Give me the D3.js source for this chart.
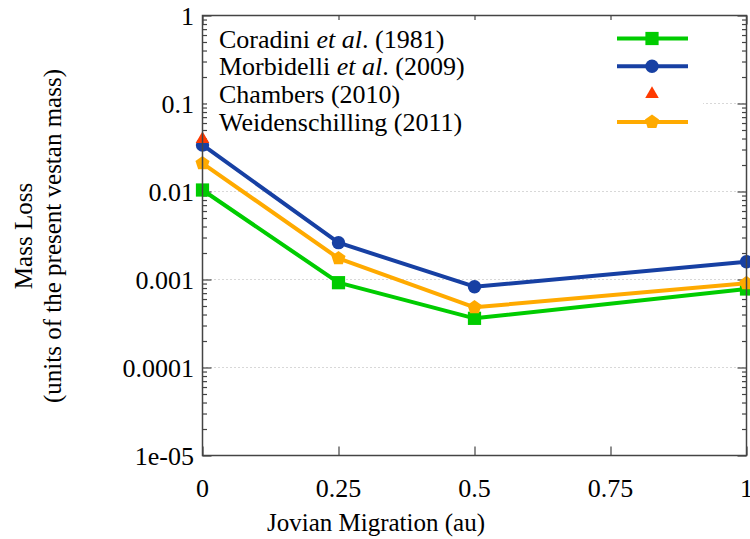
<!DOCTYPE html>
<html><head><meta charset="utf-8">
<script src="https://cdn.jsdelivr.net/npm/d3@7"></script>
<style>
body{margin:0;background:#fff;}
svg{display:block;}
</style></head>
<body><svg id="c" width="750" height="539" font-family="'Liberation Serif', 'DejaVu Serif', serif"></svg>
<script>
// ---- data ----
const xValues = [0, 0.25, 0.5, 1];
const coradini = [0.0104, 0.00092, 0.000362, 0.00078];
const morbidelli = [0.0338, 0.00262, 0.000828, 0.00159];
const chambersX = [0];
const chambers = [0.0395];
const weidenschilling = [0.0209, 0.00174, 0.000483, 0.000906];
const xTicks = [0, 0.25, 0.5, 0.75, 1];
const xTickLabels = ["0", "0.25", "0.5", "0.75", "1"];
const yTicks = [1, 0.1, 0.01, 0.001, 0.0001, 0.00001];
const yTickLabels = ["1", "0.1", "0.01", "0.001", "0.0001", "1e-05"];

const FONT = "'Liberation Serif', 'DejaVu Serif', serif";
const svg = d3.select("#c");
const L = 202.5, R = 746.5, T = 15.5, B = 455.5;
const x = d3.scaleLinear().domain([0, 1]).range([L, R]);
const y = d3.scaleLog().domain([1e-5, 1]).range([B, T]);

const frameCol = "#444";
// grid
const grid = svg.append("g");
grid.selectAll("line").data(yTicks.slice(1, -1)).join("line")
  .attr("x1", L).attr("x2", R).attr("y1", d => y(d)).attr("y2", d => y(d))
  .attr("stroke", "#b0b0b0").attr("stroke-width", 1).attr("stroke-dasharray", "1,3");

// minor ticks
const minor = [];
for (let e = -5; e < 0; e++) for (let m = 2; m <= 9; m++) minor.push(m * Math.pow(10, e));

function styleAxis(g) {
  g.select(".domain").remove();
  g.selectAll(".tick line").attr("stroke", frameCol).attr("stroke-width", 1.2);
}
svg.append("g").attr("transform", `translate(${L},0)`)
  .call(d3.axisRight(y).tickValues(minor).tickSize(4.5).tickFormat("")).call(styleAxis);
svg.append("g").attr("transform", `translate(${R},0)`)
  .call(d3.axisLeft(y).tickValues(minor).tickSize(4.5).tickFormat("")).call(styleAxis);
svg.append("g").attr("transform", `translate(${L},0)`)
  .call(d3.axisRight(y).tickValues(yTicks).tickSize(9).tickFormat("")).call(styleAxis);
svg.append("g").attr("transform", `translate(${R},0)`)
  .call(d3.axisLeft(y).tickValues(yTicks).tickSize(9).tickFormat("")).call(styleAxis);
svg.append("g").attr("transform", `translate(0,${B})`)
  .call(d3.axisTop(x).tickValues(xTicks).tickSize(9).tickFormat("")).call(styleAxis);
svg.append("g").attr("transform", `translate(0,${T})`)
  .call(d3.axisBottom(x).tickValues(xTicks).tickSize(9).tickFormat("")).call(styleAxis);

// tick labels
svg.append("g").selectAll("text").data(yTicks).join("text")
  .attr("font-family", FONT)
  .attr("x", 194).attr("y", d => y(d) + 9).attr("text-anchor", "end")
  .attr("font-size", 26).text((d, i) => yTickLabels[i]);
svg.append("g").selectAll("text").data(xTicks).join("text")
  .attr("font-family", FONT)
  .attr("x", d => x(d)).attr("y", 497).attr("text-anchor", "middle")
  .attr("font-size", 26).text((d, i) => xTickLabels[i]);

// axis titles
svg.append("text").attr("font-family", FONT).attr("x", 376).attr("y", 531).attr("text-anchor", "middle")
  .attr("font-size", 25).text("Jovian Migration (au)");
svg.append("text").attr("font-family", FONT).attr("transform", "translate(32,236) rotate(-90)").attr("text-anchor", "middle")
  .attr("font-size", 25).text("Mass Loss");
svg.append("text").attr("font-family", FONT).attr("transform", "translate(61,236) rotate(-90)").attr("text-anchor", "middle")
  .attr("font-size", 25).text("(units of the present vestan mass)");

// legend background
const legend = svg.append("g");
legend.append("rect").attr("x", 207).attr("y", 20).attr("width", 496).attr("height", 116).attr("fill", "#fff");

// series
const series = [
  {name: ["Coradini ", "et al", ". (1981)"], xs: xValues, ys: coradini, color: "#00cc00", sym: d3.symbolSquare, size: 175, line: true},
  {name: ["Morbidelli ", "et al", ". (2009)"], xs: xValues, ys: morbidelli, color: "#1740a3", sym: d3.symbolCircle, size: 140, line: true},
  {name: ["Chambers (2010)"], xs: chambersX, ys: chambers, color: "#ff3a00", sym: d3.symbolTriangle, size: 80, line: false},
  {name: ["Weidenschilling (2011)"], xs: xValues, ys: weidenschilling, color: "#ffaa00", sym: null, size: 0, pent: true, line: true}
];
function pentagon(r) {
  const p = [];
  for (let k = 0; k < 5; k++) {
    const a = -Math.PI / 2 + k * 2 * Math.PI / 5;
    p.push([r * Math.cos(a), r * Math.sin(a)]);
  }
  return "M" + p.map(q => q.join(",")).join("L") + "Z";
}
function marker(g, s, cx, cy) {
  const p = s.pent ? pentagon(7.4) : d3.symbol().type(s.sym).size(s.size)();
  g.append("path").attr("d", p).attr("transform", `translate(${cx},${cy})`).attr("fill", s.color);
}
const plot = svg.append("g");
const order = [0, 3, 1, 2];
order.forEach(i => {
  const s = series[i];
  const pts = s.xs.map((xv, j) => [x(xv), y(s.ys[j])]);
  if (s.line) plot.append("path").attr("d", d3.line()(pts)).attr("fill", "none")
    .attr("stroke", s.color).attr("stroke-width", 4).attr("stroke-linejoin", "round");
  pts.forEach(p => marker(plot, s, p[0], p[1]));
});

// legend entries
series.forEach((s, i) => {
  const cy = 38.5 + i * 27.8;
  const t = legend.append("text").attr("font-family", FONT).attr("x", 219).attr("y", cy + 9).attr("font-size", 26);
  s.name.forEach((part, k) => t.append("tspan").attr("font-style", (s.name.length > 1 && k === 1) ? "italic" : "normal").text(part));
  if (s.line) legend.append("line").attr("x1", 617).attr("x2", 688).attr("y1", cy).attr("y2", cy)
    .attr("stroke", s.color).attr("stroke-width", 4);
  marker(legend, s, 652, cy);
});

// frame
svg.append("rect").attr("x", L).attr("y", T).attr("width", R - L).attr("height", B - T)
  .attr("fill", "none").attr("stroke", frameCol).attr("stroke-width", 1.5);
</script></body></html>
